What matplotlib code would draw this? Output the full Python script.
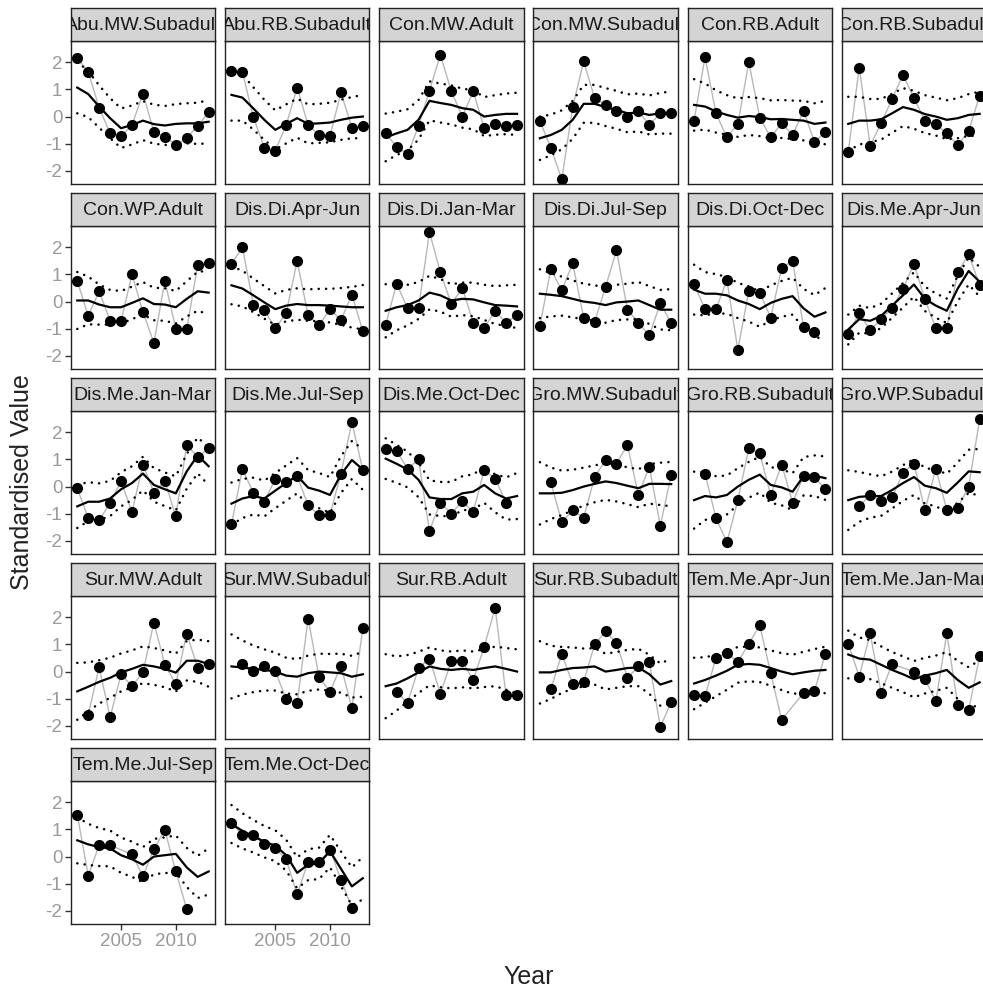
import numpy as np
import matplotlib
matplotlib.use("Agg")
import matplotlib.pyplot as plt

plt.rcParams['font.family'] = ['Liberation Sans', 'DejaVu Sans']
plt.rcParams['axes.unicode_minus'] = False

nan = np.nan
years = [2001, 2002, 2003, 2004, 2005, 2006, 2007, 2008, 2009, 2010, 2011, 2012, 2013]

names = ['Abu.MW.Subadult', 'Abu.RB.Subadult', 'Con.MW.Adult', 'Con.MW.Subadult', 'Con.RB.Adult', 'Con.RB.Subadult',
         'Con.WP.Adult', 'Dis.Di.Apr-Jun', 'Dis.Di.Jan-Mar', 'Dis.Di.Jul-Sep', 'Dis.Di.Oct-Dec', 'Dis.Me.Apr-Jun',
         'Dis.Me.Jan-Mar', 'Dis.Me.Jul-Sep', 'Dis.Me.Oct-Dec', 'Gro.MW.Subadult', 'Gro.RB.Subadult', 'Gro.WP.Subadult',
         'Sur.MW.Adult', 'Sur.MW.Subadult', 'Sur.RB.Adult', 'Sur.RB.Subadult', 'Tem.Me.Apr-Jun', 'Tem.Me.Jan-Mar',
         'Tem.Me.Jul-Sep', 'Tem.Me.Oct-Dec']

# observed standardised values per series
observed = [
    [2.16, 1.64, 0.33, -0.62, -0.72, -0.31, 0.84, -0.56, -0.74, -1.05, -0.78, -0.35, 0.17],
    [1.69, 1.65, -0.02, -1.15, -1.26, -0.31, 1.07, -0.31, -0.68, -0.72, 0.89, -0.41, -0.33],
    [-0.62, -1.11, -1.40, -0.35, 0.95, 2.28, 0.93, 0.0, 0.93, -0.43, -0.27, -0.35, -0.31],
    [-0.16, -1.15, -2.32, 0.35, 2.04, 0.68, 0.43, 0.19, 0.0, 0.21, -0.31, 0.12, 0.15],
    [-0.16, 2.2, 0.12, -0.77, -0.27, 2.0, -0.04, -0.77, -0.25, -0.68, 0.21, -0.93, -0.58],
    [-1.30, 1.81, -1.07, -0.25, 0.65, 1.54, 0.68, -0.15, -0.28, -0.62, -1.05, -0.53, 0.77],
    [0.76, -0.53, 0.38, -0.71, -0.71, 1.0, -0.38, -1.53, 0.76, -1.0, -1.03, 1.35, 1.44],
    [1.39, 2.0, -0.11, -0.3, -0.99, -0.43, 1.5, -0.5, -0.88, -0.28, -0.68, 0.25, -1.09],
    [-0.86, 0.66, -0.25, -0.25, 2.56, 1.08, -0.09, 0.5, -0.78, -0.96, -0.36, -0.78, -0.5],
    [-0.9, 1.2, 0.41, 1.41, -0.59, -0.75, 0.54, 1.89, -0.3, -0.78, -1.25, -0.06, -0.8],
    [0.64, -0.28, -0.28, 0.79, -1.78, 0.39, 0.33, -0.59, 1.23, 1.51, -0.93, -1.13, nan],
    [-1.19, -0.44, -1.05, -0.65, -0.25, 0.48, 1.39, 0.08, -0.99, -0.96, 1.08, 1.75, 0.6],
    [-0.06, -1.16, -1.25, -0.6, 0.19, -0.94, 0.81, -0.23, 0.21, -1.1, 1.54, 1.09, 1.41],
    [-1.4, 0.65, -0.23, -0.56, 0.28, 0.15, 0.4, -0.69, -1.06, -1.04, 0.48, 2.38, 0.6],
    [1.38, 1.31, 0.66, 1.0, -1.63, -0.59, -1.0, -0.54, -0.94, 0.6, 0.29, -0.59, nan],
    [nan, 0.15, -1.31, -0.88, -1.15, 0.35, 0.98, 0.85, 1.53, -0.31, 0.73, -1.44, 0.43],
    [nan, 0.48, -1.16, -2.06, -0.5, 1.41, 1.23, -0.31, 0.81, -0.59, 0.38, 0.35, -0.1],
    [nan, -0.73, -0.31, -0.53, -0.4, 0.5, 0.85, -0.88, 0.65, -0.85, -0.79, 0.0, 2.48],
    [nan, -1.59, 0.16, -1.69, -0.1, -0.54, -0.03, 1.81, 0.25, -0.46, 1.4, 0.15, 0.28],
    [nan, 0.28, 0.03, 0.19, 0.03, -1.03, -1.16, 1.94, -0.19, -0.75, 0.21, -1.34, 1.6],
    [nan, -0.75, -1.16, 0.13, 0.48, -0.81, 0.38, 0.38, -0.31, 0.91, 2.35, -0.88, -0.88],
    [nan, -0.65, 0.65, -0.46, -0.38, 1.0, 1.48, 1.06, -0.23, 0.19, 0.35, -2.04, -1.13],
    [-0.88, -0.91, 0.5, 0.69, 0.35, 1.03, 1.71, -0.06, -1.78, nan, -0.79, -0.71, 0.66],
    [1.03, -0.19, 1.41, -0.78, 0.28, nan, 0.0, -0.29, -1.09, 1.41, -1.23, -1.41, 0.56],
    [1.55, -0.7, 0.42, 0.42, nan, 0.08, -0.73, 0.28, 0.98, -0.55, -1.93, nan, nan],
    [1.25, 0.8, 0.8, 0.45, 0.3, -0.1, -1.4, -0.2, -0.2, 0.25, -0.85, -1.9, nan],
]

# fitted trend per series
trend = [
    [1.07, 0.83, 0.37, -0.06, -0.43, -0.31, -0.15, -0.28, -0.33, -0.27, -0.25, -0.25, -0.19],
    [0.8, 0.7, 0.3, -0.12, -0.49, -0.27, -0.06, -0.27, -0.25, -0.22, -0.12, -0.04, 0.0],
    [-0.77, -0.62, -0.49, -0.12, 0.58, 0.5, 0.43, 0.31, 0.25, 0.0, 0.06, 0.1, 0.1],
    [-0.8, -0.68, -0.49, -0.12, 0.47, 0.47, 0.35, 0.25, 0.12, 0.15, 0.06, 0.12, 0.15],
    [0.43, 0.37, 0.19, 0.06, -0.04, 0.02, -0.02, -0.1, -0.09, -0.12, -0.15, -0.27, -0.22],
    [-0.27, -0.15, -0.15, -0.1, 0.12, 0.35, 0.25, 0.09, 0.0, -0.12, -0.06, 0.06, 0.1],
    [0.04, 0.04, -0.11, -0.21, -0.21, -0.05, 0.12, -0.09, -0.11, -0.21, 0.1, 0.38, 0.33],
    [0.6, 0.48, 0.23, -0.03, -0.28, -0.15, -0.09, -0.13, -0.13, -0.15, -0.18, -0.21, -0.21],
    [-0.34, -0.21, -0.13, 0.04, 0.33, 0.23, 0.04, 0.1, 0.08, -0.03, -0.13, -0.15, -0.18],
    [0.29, 0.25, 0.2, 0.1, 0.0, -0.05, -0.13, -0.03, 0.0, 0.04, -0.13, -0.3, -0.3],
    [0.44, 0.29, 0.29, 0.23, 0.04, -0.09, -0.28, -0.05, 0.1, 0.2, -0.25, -0.56, -0.4],
    [-1.03, -0.65, -0.71, -0.53, -0.15, 0.23, 0.63, 0.1, -0.15, -0.34, 0.48, 1.13, 0.73],
    [-0.73, -0.56, -0.56, -0.44, -0.1, 0.13, 0.48, 0.06, -0.1, -0.25, 0.56, 1.15, 0.75],
    [-0.63, -0.44, -0.35, -0.44, -0.15, 0.13, 0.4, -0.04, -0.15, -0.31, 0.44, 0.98, 0.63],
    [1.03, 0.84, 0.63, 0.25, -0.4, -0.46, -0.46, -0.25, -0.19, 0.06, -0.25, -0.44, -0.35],
    [-0.25, -0.25, -0.23, -0.13, 0.0, 0.1, 0.19, 0.13, 0.03, -0.06, 0.1, 0.1, 0.09],
    [-0.5, -0.35, -0.4, -0.31, 0.0, 0.25, 0.44, 0.06, -0.03, -0.19, 0.38, 0.4, 0.31],
    [-0.5, -0.38, -0.35, -0.35, -0.13, 0.13, 0.35, 0.03, -0.06, -0.23, 0.15, 0.56, 0.53],
    [-0.73, -0.56, -0.38, -0.23, -0.03, 0.1, 0.25, 0.19, 0.1, -0.04, 0.4, 0.4, 0.28],
    [0.19, 0.15, 0.1, 0.06, 0.0, -0.15, -0.19, -0.06, 0.0, -0.03, -0.06, -0.19, -0.1],
    [-0.54, -0.44, -0.25, -0.03, 0.19, 0.1, 0.06, 0.1, 0.06, 0.13, 0.19, 0.1, 0.0],
    [-0.03, -0.03, 0.06, 0.13, 0.15, 0.19, 0.0, 0.06, 0.13, 0.15, -0.1, -0.48, -0.35],
    [-0.44, -0.31, -0.15, 0.03, 0.25, 0.28, 0.25, 0.13, 0.0, -0.1, -0.03, 0.03, 0.06],
    [0.63, 0.48, 0.44, 0.25, 0.06, -0.1, -0.28, -0.15, -0.06, 0.06, -0.31, -0.6, -0.4],
    [0.6, 0.45, 0.35, 0.3, 0.05, -0.1, -0.3, 0.0, 0.05, 0.1, -0.4, -0.75, -0.55],
    [1.2, 0.95, 0.75, 0.55, 0.4, 0.05, -0.6, -0.3, -0.25, 0.2, -0.45, -1.1, -0.8],
]

# half width of the interval around the trend
ci_half = [
    [0.95, 0.85, 0.78, 0.74, 0.73, 0.72, 0.72, 0.72, 0.72, 0.73, 0.74, 0.76, 0.8],
    [0.95, 0.85, 0.78, 0.74, 0.72, 0.72, 0.72, 0.72, 0.72, 0.73, 0.74, 0.76, 0.8],
    [0.88, 0.8, 0.76, 0.73, 0.72, 0.72, 0.72, 0.72, 0.72, 0.72, 0.73, 0.75, 0.78],
    [0.8, 0.75, 0.72, 0.7, 0.7, 0.7, 0.7, 0.7, 0.7, 0.7, 0.72, 0.75, 0.78],
    [0.95, 0.85, 0.78, 0.73, 0.71, 0.7, 0.7, 0.7, 0.7, 0.71, 0.73, 0.76, 0.8],
    [1.0, 0.88, 0.8, 0.75, 0.72, 0.7, 0.7, 0.7, 0.7, 0.72, 0.74, 0.77, 0.82],
    [1.05, 0.88, 0.74, 0.64, 0.6, 0.6, 0.6, 0.6, 0.6, 0.6, 0.65, 0.72, 0.8],
    [0.7, 0.66, 0.62, 0.6, 0.58, 0.58, 0.58, 0.58, 0.6, 0.62, 0.68, 0.75, 0.82],
    [0.98, 0.85, 0.75, 0.68, 0.62, 0.6, 0.6, 0.6, 0.62, 0.65, 0.7, 0.75, 0.8],
    [0.9, 0.8, 0.72, 0.68, 0.66, 0.65, 0.65, 0.65, 0.66, 0.68, 0.7, 0.73, 0.76],
    [0.92, 0.8, 0.72, 0.68, 0.65, 0.65, 0.65, 0.65, 0.66, 0.68, 0.72, 0.8, 0.9],
    [0.55, 0.5, 0.47, 0.45, 0.45, 0.45, 0.45, 0.45, 0.45, 0.45, 0.47, 0.5, 0.55],
    [0.8, 0.72, 0.68, 0.65, 0.63, 0.62, 0.62, 0.62, 0.62, 0.63, 0.64, 0.66, 0.7],
    [0.78, 0.72, 0.68, 0.66, 0.65, 0.65, 0.65, 0.65, 0.65, 0.66, 0.68, 0.7, 0.75],
    [0.75, 0.7, 0.66, 0.64, 0.63, 0.63, 0.63, 0.63, 0.64, 0.66, 0.7, 0.78, 0.85],
    [1.15, 0.95, 0.82, 0.75, 0.7, 0.68, 0.68, 0.68, 0.68, 0.7, 0.73, 0.78, 0.82],
    [1.05, 0.88, 0.78, 0.72, 0.68, 0.66, 0.66, 0.66, 0.66, 0.68, 0.71, 0.75, 0.8],
    [1.1, 0.92, 0.8, 0.73, 0.68, 0.66, 0.66, 0.66, 0.67, 0.7, 0.74, 0.8, 0.86],
    [1.05, 0.9, 0.8, 0.74, 0.7, 0.68, 0.68, 0.68, 0.68, 0.7, 0.73, 0.78, 0.84],
    [1.18, 1.0, 0.86, 0.76, 0.7, 0.66, 0.65, 0.65, 0.66, 0.68, 0.72, 0.77, 0.83],
    [1.18, 1.0, 0.86, 0.76, 0.7, 0.68, 0.68, 0.68, 0.68, 0.7, 0.73, 0.77, 0.82],
    [1.15, 0.98, 0.85, 0.76, 0.7, 0.67, 0.66, 0.66, 0.67, 0.69, 0.72, 0.78, 0.82],
    [0.95, 0.84, 0.76, 0.7, 0.66, 0.64, 0.64, 0.65, 0.68, 0.72, 0.76, 0.8, 0.86],
    [0.88, 0.78, 0.72, 0.68, 0.66, 0.66, 0.67, 0.66, 0.65, 0.66, 0.7, 0.76, 0.82],
    [0.85, 0.76, 0.7, 0.66, 0.65, 0.65, 0.65, 0.65, 0.66, 0.68, 0.72, 0.78, 0.85],
    [0.7, 0.65, 0.6, 0.58, 0.57, 0.57, 0.57, 0.57, 0.58, 0.6, 0.64, 0.7, 0.78],
]

W, H = 983, 992
fig = plt.figure(figsize=(W / 100, H / 100), dpi=100)

ncol = 6
x = np.array(years)
for i, name in enumerate(names):
    r, c = divmod(i, ncol)
    left = 70.7 + c * 154.2
    top = 40.7 + r * 185.0
    pw, ph, sh = 144.5, 143.6, 33.0

    ax = fig.add_axes([left / W, 1 - (top + ph) / H, pw / W, ph / H])
    obs = np.array(observed[i], dtype=float)
    tr = np.array(trend[i])
    ci = np.array(ci_half[i])
    ok = ~np.isnan(obs)

    ax.plot(x[ok], obs[ok], color='#b8b8b8', lw=1.0, zorder=1)
    ax.plot(x[ok], obs[ok], 'o', color='black', ms=7, zorder=2)
    ax.plot(x, tr, color='black', lw=1.6, zorder=3)
    # dotted interval lines
    for band in (tr + ci, tr - ci):
        ax.plot(x, band, color='black', lw=1.8, ls=(0, (0.05, 2.9)),
                dash_capstyle='round', zorder=3)

    ax.set_xlim(2000.4, 2013.6)
    ax.set_ylim(-2.5, 2.8)
    for sp in ax.spines.values():
        sp.set_linewidth(1.0)
        sp.set_color('#222222')

    if c == 0:
        ax.set_yticks([-2, -1, 0, 1, 2])
        ax.tick_params(axis='y', length=4, width=1, color='#333333',
                       labelcolor='#9a9a9a', labelsize=13.5, pad=2)
    else:
        ax.set_yticks([])
    if i >= len(names) - 2:
        ax.set_xticks([2005, 2010])
        ax.tick_params(axis='x', length=4, width=1, color='#333333',
                       labelcolor='#9a9a9a', labelsize=13.5, pad=2)
    else:
        ax.set_xticks([])

    # facet strip
    sx = fig.add_axes([left / W, 1 - top / H, pw / W, sh / H])
    sx.set_facecolor('#d4d4d4')
    sx.set_xticks([])
    sx.set_yticks([])
    for sp in sx.spines.values():
        sp.set_linewidth(1.0)
        sp.set_color('#222222')
    sx.text(0.5, 0.46, name, ha='center', va='center', fontsize=14,
            color='#1a1a1a', transform=sx.transAxes, clip_on=True)

fig.text(22 / W, 1 - 482 / H, 'Standardised Value', rotation=90,
         ha='center', va='center', fontsize=18, color='#222222')
fig.text(529 / W, 1 - 977 / H, 'Year', ha='center', va='center',
         fontsize=18, color='#222222')

fig.savefig('out.png', dpi=100, facecolor='white')
